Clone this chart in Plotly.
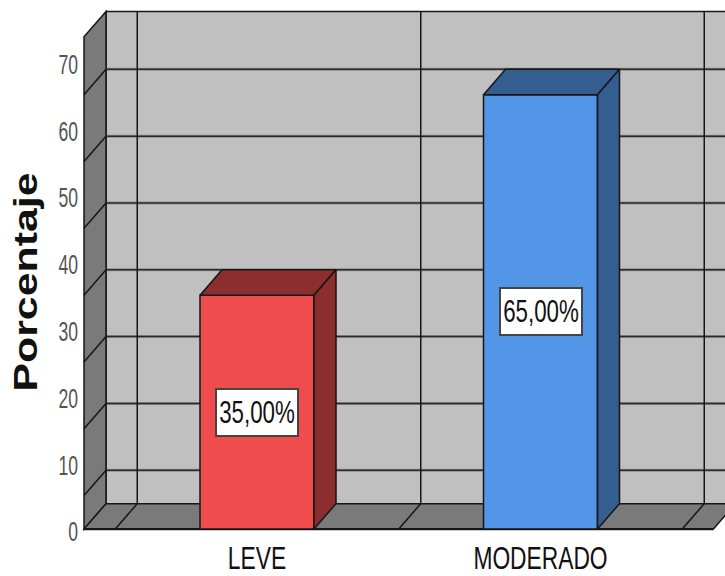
import plotly.graph_objects as go

# Chart data
categories = ["LEVE", "MODERADO"]
percentages = [35.0, 65.0]
value_labels = ["35,00%", "65,00%"]
y_ticks = [0, 10, 20, 30, 40, 50, 60, 70]
wall_grid = [5, 15, 25, 35, 45, 55, 65]
category_edges = [-0.5, 0.5, 1.5]

# Axis ranges
X_MIN = -0.6102
X_AXIS_RANGE = [-0.6173, 1.6508]
Y_AXIS_RANGE = [-2 / 6.72, 79.17]
WALL_TOP = 73.66
X_END = 1.61

# Oblique depth of the box, in data units
DX = 22 / 283.5
DY = 25.5 / 6.72
BAR_WIDTH = 114 / 283.5

WALL = "#C0C0C0"
SIDE = "#7A7A7A"
EDGE = "#161616"
FRONT = ["#EF4D4D", "#5395E6"]
SHADE = ["#8C2E2E", "#345D90"]
SANS = "'Liberation Sans', Arial, sans-serif"


def polygon(points, fill, width=1.5):
    path = "M " + " L ".join(f"{x},{y}" for x, y in points) + " Z"
    return dict(type="path", xref="x", yref="y", path=path, fillcolor=fill,
                line=dict(color=EDGE, width=width), layer="below")


def segment(x0, y0, x1, y1, width=1.5, color=EDGE):
    return dict(type="line", xref="x", yref="y", x0=x0, y0=y0, x1=x1, y1=y1,
                line=dict(color=color, width=width), layer="below")


# Box walls and floor
shapes = [
    polygon([(X_MIN + DX, DY), (X_END + DX, DY), (X_END + DX, WALL_TOP + DY), (X_MIN + DX, WALL_TOP + DY)], WALL),
    polygon([(X_MIN, 0), (X_MIN + DX, DY), (X_MIN + DX, WALL_TOP + DY), (X_MIN, WALL_TOP)], SIDE),
    polygon([(X_MIN, 0), (X_END, 0), (X_END + DX, DY), (X_MIN + DX, DY)], SIDE),
    segment(X_MIN, -1.7 / 6.72, X_END, -1.7 / 6.72, 1.5, "#c8c8c8"),
    segment(X_MIN, 0, X_END, 0, 2),
]
for v in wall_grid:
    shapes.append(segment(X_MIN + DX, v + DY, X_END + DX, v + DY, 3, "rgba(60,60,60,0.35)"))
    shapes.append(segment(X_MIN + DX, v + DY, X_END + DX, v + DY, 1.5, "#2a2a2a"))
    shapes.append(segment(X_MIN, v, X_MIN + DX, v + DY))
for e in category_edges:
    shapes.append(segment(e + DX, DY, e + DX, WALL_TOP + DY))
    shapes.append(segment(e, 0, e + DX, DY))

fig = go.Figure()

# Front faces
fig.add_trace(go.Bar(
    x=list(range(len(categories))), y=percentages, width=BAR_WIDTH,
    marker=dict(color=FRONT, line=dict(color=EDGE, width=1.5)),
    hoverinfo="skip", showlegend=False,
))

# Top and side faces, offset from each bar's value
half = BAR_WIDTH / 2
for i, v in enumerate(percentages):
    top_x = [i - half, i + half, i + half + DX, i - half + DX, i - half]
    top_y = [v, v, v + DY, v + DY, v]
    side_x = [i + half, i + half + DX, i + half + DX, i + half, i + half]
    side_y = [0, DY, v + DY, v, 0]
    for xs, ys in ((top_x, top_y), (side_x, side_y)):
        fig.add_trace(go.Scatter(
            x=xs, y=ys, mode="lines", fill="toself", fillcolor=SHADE[i],
            line=dict(color=EDGE, width=1.5), hoverinfo="skip", showlegend=False,
        ))

annotations = [
    dict(x=i, y=v / 2, xref="x", yref="y", text=label, showarrow=False,
         font=dict(family=SANS, size=31, color="#111111"),
         bgcolor="white", bordercolor="#444444", borderwidth=2,
         width=78, height=43, align="center", valign="middle")
    for i, (v, label) in enumerate(zip(percentages, value_labels))
]
annotations.append(dict(
    x=(25 - 82) / (725 - 82), y=(534 - 284) / 534, xref="paper", yref="paper",
    xanchor="center", yanchor="middle", text="<b>Porcentaje</b>",
    showarrow=False, textangle=-90,
    font=dict(family=SANS, size=33, color="#111111"),
))

fig.update_layout(
    width=725, height=576,
    margin=dict(l=82, r=0, t=0, b=42),
    paper_bgcolor="white", plot_bgcolor="white",
    shapes=shapes, annotations=annotations, showlegend=False,
    xaxis=dict(
        range=X_AXIS_RANGE, tickvals=list(range(len(categories))), ticktext=categories,
        showgrid=False, zeroline=False, showline=False,
        ticks="", ticklabelstandoff=6,
        tickfont=dict(family=SANS, size=31, color="#111111"),
    ),
    yaxis=dict(
        range=Y_AXIS_RANGE, tickvals=y_ticks, ticktext=[str(t) for t in y_ticks],
        showgrid=False, zeroline=False, showline=False,
        ticks="", ticklabelshift=3, ticklabelstandoff=3,
        tickfont=dict(family=SANS, size=27, color="#555555"),
    ),
)

# Condense the labels horizontally; they stay live SVG text
condense = """
var squeeze = function (selector, factor) {
  document.querySelectorAll(selector).forEach(function (t) {
    t.setAttribute('lengthAdjust', 'spacingAndGlyphs');
    t.setAttribute('textLength', t.getComputedTextLength() * factor);
  });
};
squeeze('.xtick text', 0.735);
squeeze('.ytick text', 0.65);
document.querySelectorAll('.annotation-text').forEach(function (t) {
  var isTitle = t.textContent === 'Porcentaje';
  t.setAttribute('lengthAdjust', 'spacingAndGlyphs');
  t.setAttribute('textLength', isTitle ? 219 : t.getComputedTextLength() * 0.72);
});
"""

fig.write_html("out.html", post_script=condense)
